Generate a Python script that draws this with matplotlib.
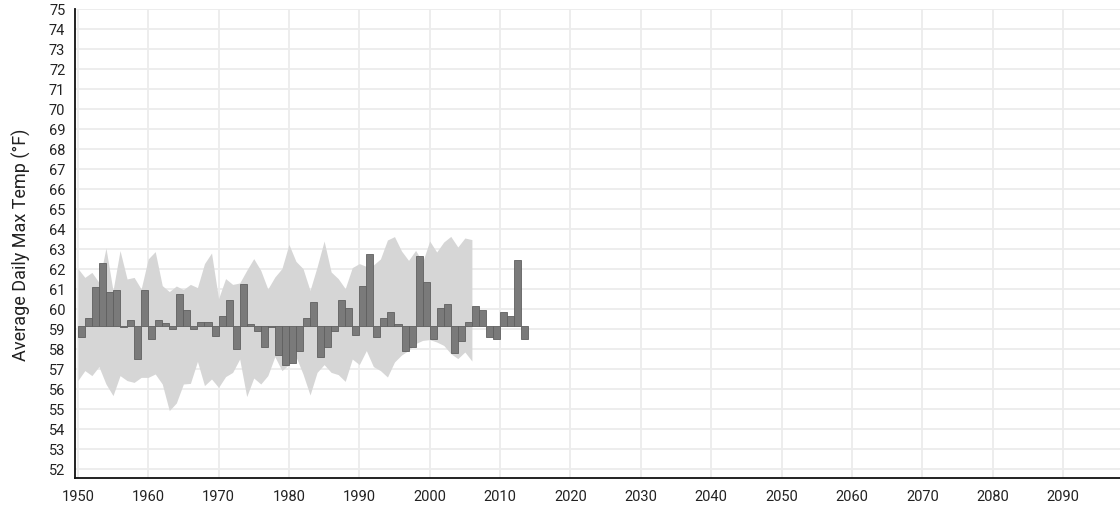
import matplotlib
matplotlib.use("Agg")
import matplotlib.pyplot as plt
import numpy as np

plt.rcParams['font.family'] = ['Roboto', 'DejaVu Sans']

# Annual average daily max temperature (°F), observed record
obs_years = list(range(1950, 2014))
obs_values = [
    58.58, 59.55, 61.08, 62.28, 60.87, 60.95, 59.08, 59.47, 57.48, 60.97,
    58.48, 59.47, 59.28, 58.98, 60.77, 59.97, 58.98, 59.35, 59.35, 58.67,
    59.65, 60.45, 57.98, 61.27, 59.27, 58.92, 58.08, 59.10, 57.68, 57.18,
    57.28, 57.88, 59.55, 60.37, 57.58, 58.08, 58.88, 60.45, 60.05, 58.68,
    61.17, 62.75, 58.58, 59.55, 59.85, 59.27, 57.88, 58.08, 62.67, 61.37,
    58.48, 60.05, 60.25, 57.78, 58.38, 59.35, 60.17, 59.95, 58.58, 58.48,
    59.85, 59.65, 62.47, 58.48,
]
baseline = 59.13

# Modeled historical range (min / max across models)
range_years = list(range(1950, 2007))
range_high = [
    62.03, 61.58, 61.83, 61.33, 63.05, 60.92, 62.92, 61.50, 61.58, 61.00,
    62.50, 62.87, 61.17, 60.87, 61.15, 60.97, 61.23, 61.07, 62.27, 62.80,
    60.52, 61.52, 61.23, 61.30, 61.93, 62.52, 61.93, 61.00, 61.60, 62.02,
    63.23, 62.38, 62.02, 60.93, 62.10, 63.40, 61.85, 61.52, 61.02, 62.07,
    62.27, 62.13, 62.20, 62.50, 63.45, 63.62, 62.90, 62.43, 62.93, 62.35,
    63.40, 62.85, 63.35, 63.63, 63.10, 63.55, 63.47,
]
range_low = [
    56.42, 56.92, 56.67, 57.12, 56.25, 55.67, 56.67, 56.42, 56.33, 56.58,
    56.58, 56.75, 56.25, 54.92, 55.30, 56.25, 56.28, 57.38, 56.17, 56.50,
    56.08, 56.62, 56.83, 57.50, 55.62, 56.55, 56.25, 56.67, 57.62, 56.92,
    57.22, 57.62, 56.75, 55.70, 56.83, 57.22, 56.83, 56.72, 56.38, 57.50,
    57.22, 57.92, 57.12, 56.92, 56.60, 57.35, 57.70, 57.93, 58.27, 58.43,
    58.47, 58.35, 58.18, 57.77, 57.52, 57.85, 57.40,
]

y_ticks = list(range(52, 76))
x_ticks = list(range(1950, 2100, 10))
y_label = "Average Daily Max Temp (°F)"

fig = plt.figure(figsize=(11.2, 5.06), dpi=100)
ax = fig.add_axes([75 / 1120, 27 / 506, 1 - 75 / 1120, 469 / 506])

ax.fill_between(range_years, range_low, range_high, color='#d6d6d6',
                linewidth=0, zorder=1)

heights = np.array(obs_values) - baseline
ax.bar(obs_years, heights, bottom=baseline, width=1.0, align='edge',
       color='#7a7a7a', edgecolor='#606060', linewidth=0.6, zorder=2)

ax.set_xlim(1949.6, 2098.1)
ax.set_ylim(51.55, 75)
ax.set_yticks(y_ticks)
ax.set_xticks(x_ticks)
ax.grid(True, color='#ececec', linewidth=1.3, zorder=0)
ax.set_axisbelow(True)

for side in ('top', 'right'):
    ax.spines[side].set_visible(False)
for side in ('left', 'bottom'):
    ax.spines[side].set_color('#111111')
    ax.spines[side].set_linewidth(1.3)

ax.tick_params(axis='both', length=0, labelsize=10.5, colors='#222222')
ax.tick_params(axis='y', pad=7)
ax.tick_params(axis='x', pad=8)

ax.set_ylabel(y_label, fontsize=13, color='#222222', labelpad=13)

fig.savefig('out.png', dpi=100)
